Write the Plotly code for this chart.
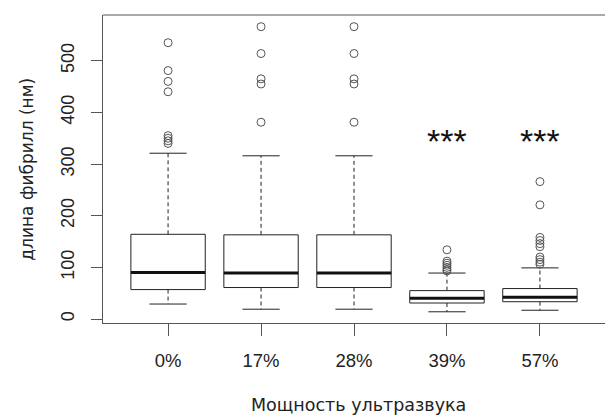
import plotly.graph_objects as go

categories = ["0%", "17%", "28%", "39%", "57%"]
q1 = [57, 61, 61, 31, 33.5]
medians = [90, 89, 89, 40, 42]
q3 = [164, 163, 163, 55, 59]
lower_whisker = [29, 19, 19, 14, 17]
upper_whisker = [321, 316, 316, 89, 99]
outliers = [
    [535, 481, 460, 440, 355, 350, 345, 340],
    [566, 514, 465, 455, 381],
    [566, 514, 465, 455, 381],
    [134, 112, 108, 104, 100, 96, 93],
    [266, 221, 158, 152, 146, 140, 120, 115, 110, 106],
]
stars = ["", "", "", "***", "***"]
star_y = 350
y_ticks = [0, 100, 200, 300, 400, 500]

W, H = 605, 417
ML, MR, MT, MB = 103, 0, 15, 94
PW, PH = W - ML - MR, H - MT - MB

BOXW = 0.4
STAPLE = 0.2
fig = go.Figure()
for i, cat in enumerate(categories):
    x = i + 1
    fig.add_trace(go.Scatter(x=[x, x, None, x, x], y=[q3[i], upper_whisker[i], None, q1[i], lower_whisker[i]],
                             mode="lines", line=dict(color="#222", width=1, dash="4px,3px"),
                             hoverinfo="skip", showlegend=False))
    fig.add_trace(go.Scatter(x=[x - STAPLE, x + STAPLE, None, x - STAPLE, x + STAPLE],
                             y=[upper_whisker[i], upper_whisker[i], None, lower_whisker[i], lower_whisker[i]],
                             mode="lines", line=dict(color="#222", width=1),
                             hoverinfo="skip", showlegend=False))
    fig.add_trace(go.Scatter(x=[x - BOXW, x + BOXW, x + BOXW, x - BOXW, x - BOXW],
                             y=[q1[i], q1[i], q3[i], q3[i], q1[i]],
                             mode="lines", line=dict(color="#222", width=1),
                             fill="toself", fillcolor="white",
                             hoverinfo="skip", showlegend=False))
    fig.add_trace(go.Scatter(x=[x - BOXW, x + BOXW], y=[medians[i], medians[i]],
                             mode="lines", line=dict(color="#111", width=3),
                             hoverinfo="skip", showlegend=False))
    fig.add_trace(go.Scatter(x=[x] * len(outliers[i]), y=outliers[i], mode="markers",
                             marker=dict(symbol="circle-open", size=8, color="#555", line=dict(width=1)),
                             showlegend=False))
    if stars[i]:
        fig.add_annotation(x=x, y=star_y, text=stars[i], showarrow=False, yshift=-3,
                           font=dict(size=34, color="#111", family="Liberation Sans"),
                           yanchor="middle")

fig.add_annotation(xref="paper", yref="paper", x=((247 + 470) / 2 - ML) / PW,
                   y=-(405 - (MT + PH)) / PH, text="Мощность ультразвука", showarrow=False,
                   xanchor="center", yanchor="middle",
                   font=dict(family="DejaVu Sans", size=17.5, color="#222"))
fig.add_annotation(xref="paper", yref="paper", x=(26.7 - ML) / PW, y=(MT + PH - 169) / PH,
                   text="длина фибрилл (нм)", showarrow=False, textangle=-90,
                   xanchor="center", yanchor="middle",
                   font=dict(family="DejaVu Sans", size=17, color="#222"))

fig.update_layout(
    width=W, height=H,
    margin=dict(l=ML, r=MR, t=MT, b=MB),
    plot_bgcolor="white", paper_bgcolor="white",
    font=dict(family="Liberation Sans, Arial, sans-serif", size=18, color="#222"),
    xaxis=dict(range=[0.3, 5.7], tickvals=[1, 2, 3, 4, 5], ticktext=categories,
               showgrid=False, zeroline=False, showline=True, linecolor="#555", linewidth=1,
               ticks="outside", ticklen=12, tickcolor="#555", automargin=False,
               ticklabelstandoff=9, tickfont=dict(size=18.5)),
    yaxis=dict(range=[-7.7, 588.6], tickvals=y_ticks, tickangle=-90,
               showgrid=False, zeroline=False, showline=True, linecolor="#555", linewidth=1,
               ticks="outside", ticklen=11, tickcolor="#555", automargin=False,
               ticklabelstandoff=10, tickfont=dict(size=18)),
)
fig.add_shape(type="line", xref="paper", yref="paper", x0=0, x1=1, y0=1, y1=1,
              line=dict(color="#555", width=1))
fig.write_html("out.html", config={"displayModeBar": False},
               post_script="document.body.style.margin='0';document.body.style.overflow='hidden';")
